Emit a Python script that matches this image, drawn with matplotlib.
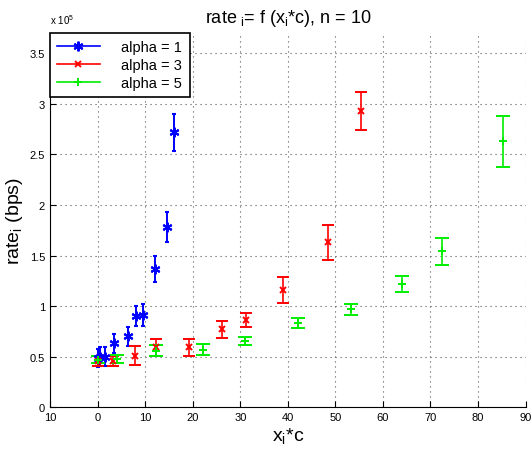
import matplotlib
matplotlib.use('Agg')
import matplotlib.pyplot as plt
from matplotlib.lines import Line2D

plt.rcParams['font.family'] = ['Liberation Sans', 'DejaVu Sans']
plt.rcParams['mathtext.default'] = 'regular'

# alpha = 1
x_a1 = [0, 0.5, 1.55, 3.5, 6.5, 8.0, 9.6, 12.1, 14.6, 16.0]
y_a1 = [0.49e5, 0.50e5, 0.50e5, 0.63e5, 0.70e5, 0.90e5, 0.91e5, 1.37e5, 1.78e5, 2.72e5]
e_a1 = [0.09e5, 0.09e5, 0.09e5, 0.09e5, 0.095e5, 0.10e5, 0.11e5, 0.13e5, 0.15e5, 0.185e5]

# alpha = 3
x_a3 = [0, 3.2, 7.9, 12.2, 19.2, 26.2, 31.2, 39.0, 48.4, 55.3]
y_a3 = [0.46e5, 0.46e5, 0.51e5, 0.59e5, 0.59e5, 0.77e5, 0.86e5, 1.16e5, 1.63e5, 2.93e5]
e_a3 = [0.05e5, 0.05e5, 0.09e5, 0.08e5, 0.085e5, 0.085e5, 0.07e5, 0.125e5, 0.17e5, 0.19e5]

# alpha = 5
x_a5 = [0, 4.15, 12.2, 22.1, 31.1, 42.1, 53.3, 64.1, 72.4, 85.3]
y_a5 = [0.47e5, 0.48e5, 0.56e5, 0.57e5, 0.65e5, 0.83e5, 0.97e5, 1.22e5, 1.54e5, 2.63e5]
e_a5 = [0.035e5, 0.04e5, 0.05e5, 0.05e5, 0.04e5, 0.05e5, 0.055e5, 0.08e5, 0.13e5, 0.25e5]

labels = ['alpha = 1', 'alpha = 3', 'alpha = 5']
xticks = [-10, 0, 10, 20, 30, 40, 50, 60, 70, 80, 90]
xtick_labels = ['10', '0', '10', '20', '30', '40', '50', '60', '70', '80', '90']
yticks = [0, 0.5e5, 1e5, 1.5e5, 2e5, 2.5e5, 3e5, 3.5e5]
ytick_labels = ['0', '0.5', '1', '1.5', '2', '2.5', '3', '3.5']

blue, red, green = '#0000ff', '#ff0000', '#00ee00'
star = (6, 2, 0)  # asterisk like matlab '*'

fig = plt.figure(figsize=(5.32, 4.56), dpi=100)
ax = fig.add_axes([0.094, 0.105, 0.894, 0.82])

ax.errorbar(x_a1, y_a1, yerr=e_a1, color=blue, marker=star, markersize=7,
            markeredgewidth=1.5, linestyle='none', elinewidth=1.4,
            capsize=1.5, capthick=1.2)
ax.errorbar(x_a3, y_a3, yerr=e_a3, color=red, marker='x', markersize=4,
            markeredgewidth=1.4, linestyle='none', elinewidth=1.2, capsize=4,
            capthick=1.2)
ax.errorbar(x_a5, y_a5, yerr=e_a5, color=green, marker='+', markersize=6,
            markeredgewidth=1.4, linestyle='none', elinewidth=1.2, capsize=5,
            capthick=1.2)

ax.set_xlim(-10, 90)
ax.set_ylim(0, 3.7e5)
ax.set_xticks(xticks)
ax.set_xticklabels(xtick_labels)
ax.set_yticks(yticks)
ax.set_yticklabels(ytick_labels)
ax.tick_params(direction='in', labelsize=8, length=4)
ax.spines['top'].set_visible(False)
ax.spines['right'].set_visible(False)
ax.grid(True, linestyle=(0, (1, 3.5)), color='#555555', linewidth=0.8)

ax.text(0.0, 1.02, r'x 10$^5$', transform=ax.transAxes, fontsize=7,
        ha='left', va='bottom')

ax.set_title('rate$_{\\ i}$= f (x$_i$*c), n = 10', fontsize=13, pad=8)
ax.set_xlabel('x$_i$*c', fontsize=14, labelpad=2)
ax.set_ylabel('rate$_i$ (bps)', fontsize=14)
ax.yaxis.set_label_coords(-0.052, 0.5)

handles = [
    Line2D([], [], color=blue, marker=star, markersize=7, markeredgewidth=1.5, linewidth=1.2),
    Line2D([], [], color=red, marker='x', markersize=4, markeredgewidth=1.4, linewidth=1.2),
    Line2D([], [], color=green, marker='+', markersize=6, markeredgewidth=1.4, linewidth=1.2),
]
leg = ax.legend(handles, labels, loc='upper left', bbox_to_anchor=(0.0, 1.0),
                fontsize=10.5, handlelength=2.9, handletextpad=1.5,
                labelspacing=0.25, borderaxespad=0.0, fancybox=False,
                framealpha=1, edgecolor='black', borderpad=0.5)
leg.get_frame().set_linewidth(1.2)

fig.savefig('out.png', dpi=100)
